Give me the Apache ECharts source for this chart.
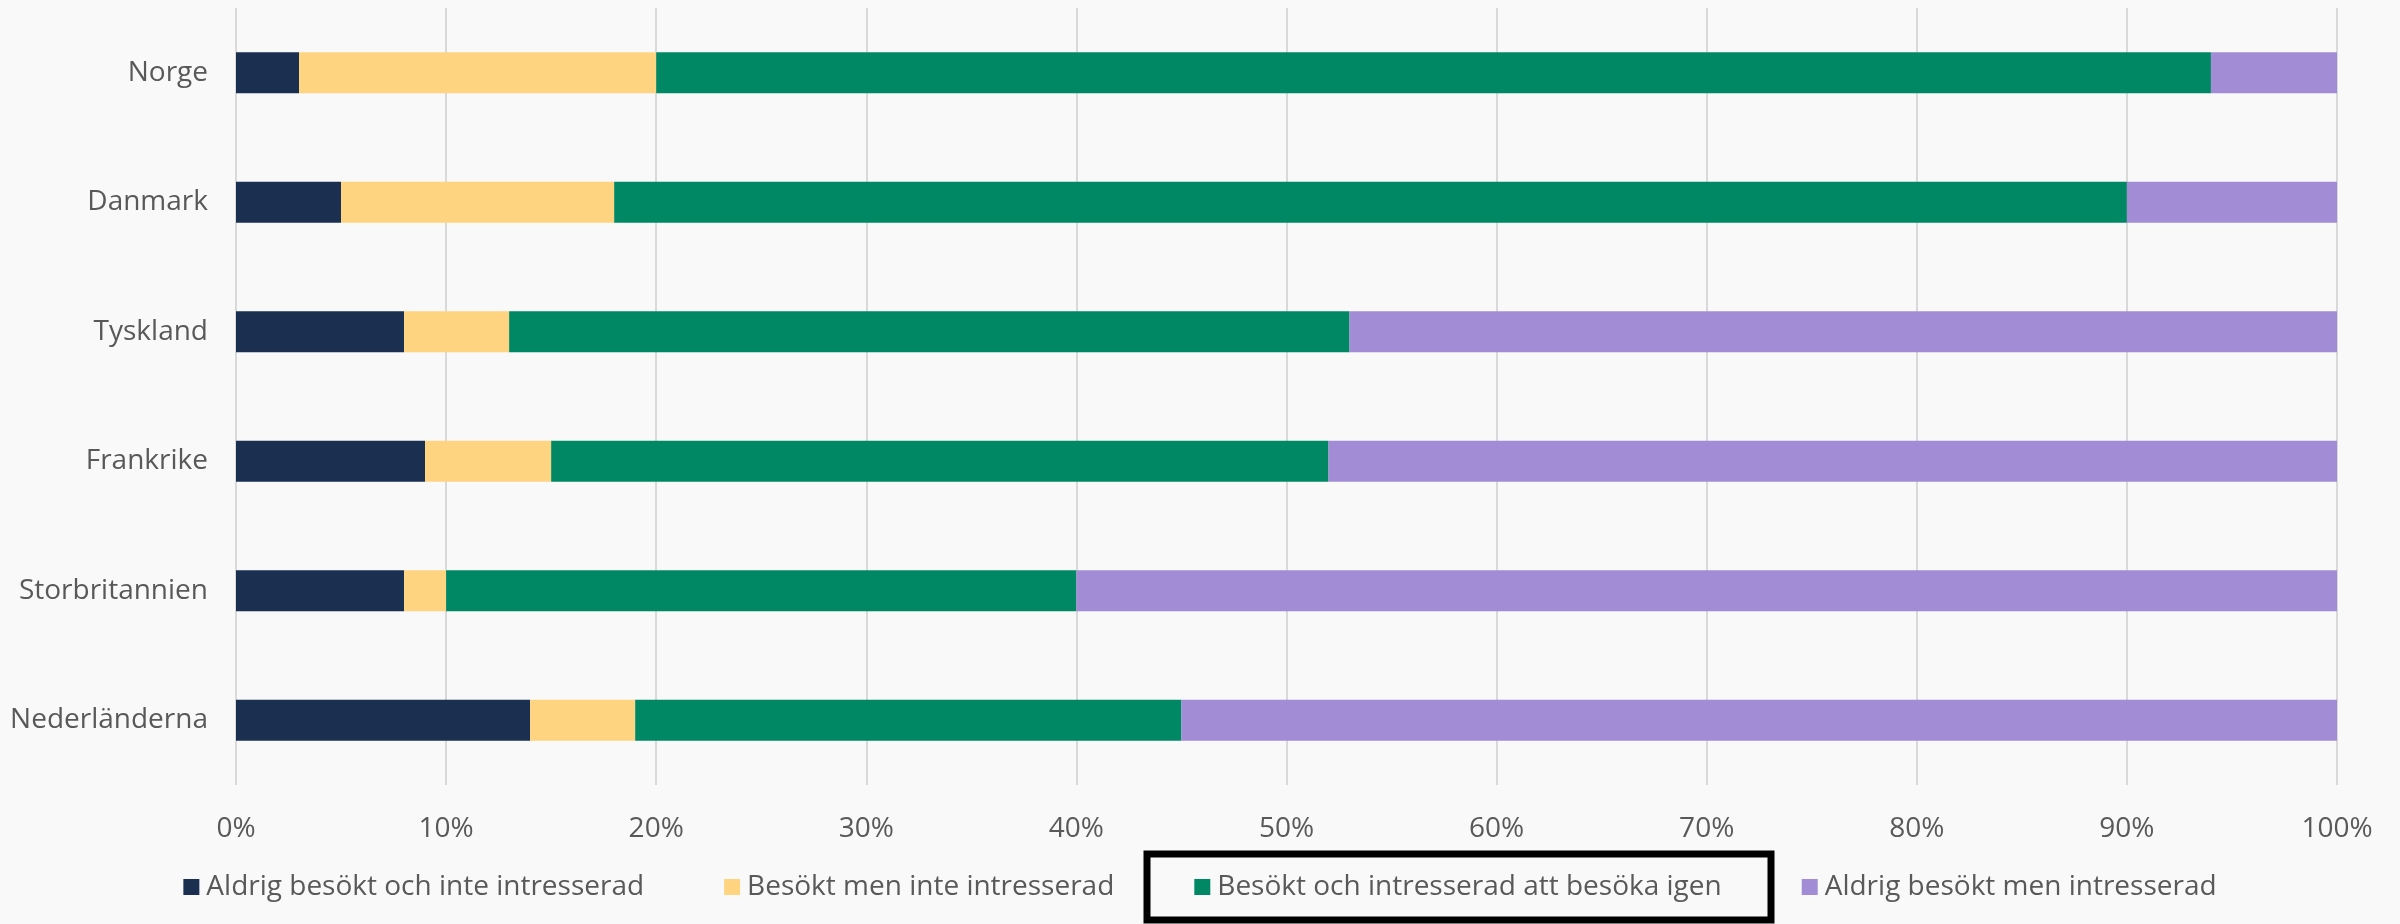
<!DOCTYPE html>
<html>
<head>
<meta charset="utf-8">
<script src="https://cdn.jsdelivr.net/npm/echarts@6/dist/echarts.min.js"></script>
<style>
html,body{margin:0;padding:0;background:#F9F9F9;}
#chart{width:2400px;height:924px;}
</style>
</head>
<body>
<div id="chart"></div>
<script>
const categories = ['Norge', 'Danmark', 'Tyskland', 'Frankrike', 'Storbritannien', 'Nederländerna'];
const seriesNames = ['Aldrig besökt och inte intresserad', 'Besökt men inte intresserad', 'Besökt och intresserad att besöka igen', 'Aldrig besökt men intresserad'];
const aldrigInte = [3, 5, 8, 9, 8, 14];
const besoktInte = [17, 13, 5, 6, 2, 5];
const besoktIntresserad = [74, 72, 40, 37, 30, 26];
const aldrigIntresserad = [6, 10, 47, 48, 60, 55];
const xTicks = ['0%', '10%', '20%', '30%', '40%', '50%', '60%', '70%', '80%', '90%', '100%'];
const colors = ['#1B2F50', '#FED480', '#008864', '#A38CD6'];

const FONT = '"Open Sans", sans-serif';
const chart = echarts.init(document.getElementById('chart'));
const values = [aldrigInte, besoktInte, besoktIntresserad, aldrigIntresserad];
chart.setOption({
  backgroundColor: '#F9F9F9',
  animation: false,
  color: colors,
  textStyle: { fontFamily: FONT },
  grid: { left: 236, right: 63, top: 8, bottom: 139, containLabel: false },
  legend: {
    bottom: 18,
    left: 'center',
    itemWidth: 16,
    itemHeight: 16,
    itemGap: 80,
    icon: 'rect',
    textStyle: { fontFamily: FONT, fontSize: 28, color: '#595959', padding: [0, 0, 0, 2] },
    data: seriesNames
  },
  xAxis: {
    type: 'value',
    min: 0,
    max: 100,
    interval: 10,
    axisLine: { show: false },
    axisTick: { show: false },
    splitLine: { show: true, lineStyle: { color: '#D9D9D9', width: 2 } },
    axisLabel: {
      margin: 30,
      fontFamily: FONT,
      fontSize: 28,
      color: '#595959',
      formatter: function (v) { return xTicks[Math.round(v / 10)]; }
    }
  },
  yAxis: {
    type: 'category',
    inverse: true,
    data: categories,
    axisLine: { show: false },
    axisTick: { show: false },
    axisLabel: { margin: 28, fontFamily: FONT, fontSize: 28, color: '#595959' }
  },
  series: seriesNames.map(function (name, i) {
    return {
      name: name,
      type: 'bar',
      stack: 'total',
      barWidth: 41,
      data: values[i],
      itemStyle: { color: colors[i] }
    };
  }),
  graphic: [{
    type: 'rect',
    shape: { x: 1147, y: 854, width: 624, height: 66 },
    style: { fill: 'none', stroke: '#000000', lineWidth: 7 },
    z: 100
  }]
});
</script>
</body>
</html>
